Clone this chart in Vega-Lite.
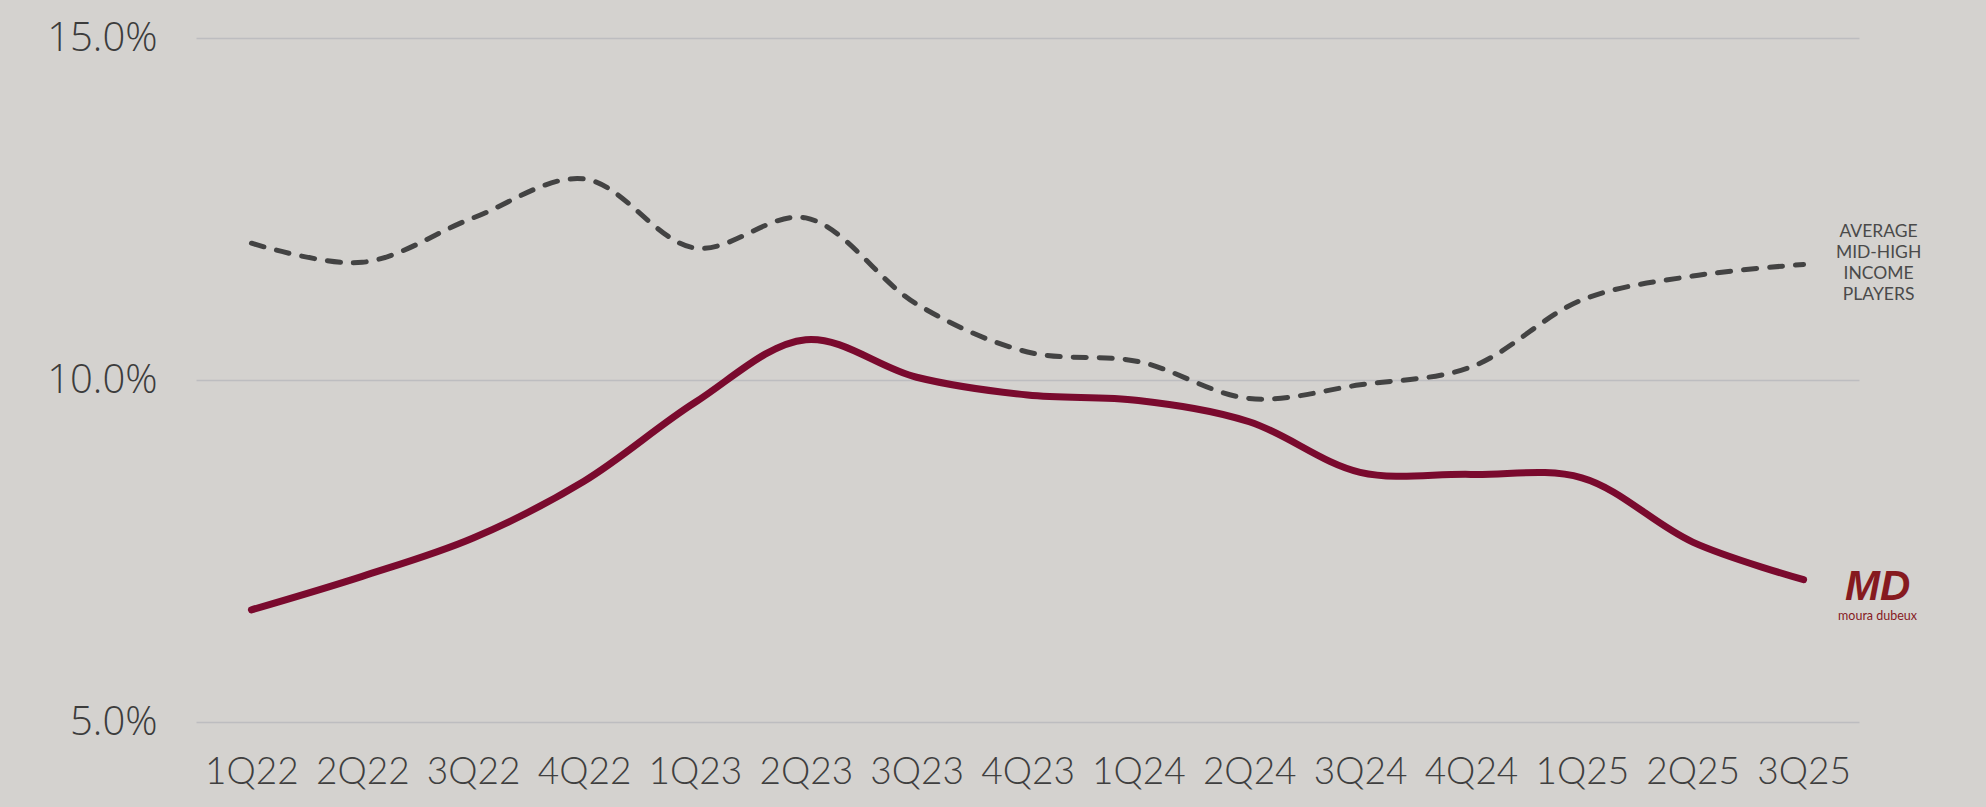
{
  "$schema": "https://vega.github.io/schema/vega-lite/v6.json",
  "width": 1663,
  "height": 684,
  "autosize": "none",
  "padding": {"left": 196, "top": 38, "right": 127, "bottom": 85},
  "background": "#d4d2cf",
  "config": {"view": {"stroke": null}},
  "data": {
    "values": [
      {"quarter": "1Q22", "series": "Moura Dubeux", "value": 6.64},
      {"quarter": "2Q22", "series": "Moura Dubeux", "value": 7.13},
      {"quarter": "3Q22", "series": "Moura Dubeux", "value": 7.69},
      {"quarter": "4Q22", "series": "Moura Dubeux", "value": 8.52},
      {"quarter": "1Q23", "series": "Moura Dubeux", "value": 9.67},
      {"quarter": "2Q23", "series": "Moura Dubeux", "value": 10.59},
      {"quarter": "3Q23", "series": "Moura Dubeux", "value": 10.04},
      {"quarter": "4Q23", "series": "Moura Dubeux", "value": 9.78},
      {"quarter": "1Q24", "series": "Moura Dubeux", "value": 9.70},
      {"quarter": "2Q24", "series": "Moura Dubeux", "value": 9.39},
      {"quarter": "3Q24", "series": "Moura Dubeux", "value": 8.65},
      {"quarter": "4Q24", "series": "Moura Dubeux", "value": 8.62},
      {"quarter": "1Q25", "series": "Moura Dubeux", "value": 8.57},
      {"quarter": "2Q25", "series": "Moura Dubeux", "value": 7.63},
      {"quarter": "3Q25", "series": "Moura Dubeux", "value": 7.08},
      {"quarter": "1Q22", "series": "Average", "value": 12.0},
      {"quarter": "2Q22", "series": "Average", "value": 11.72},
      {"quarter": "3Q22", "series": "Average", "value": 12.37},
      {"quarter": "4Q22", "series": "Average", "value": 12.94},
      {"quarter": "1Q23", "series": "Average", "value": 11.93},
      {"quarter": "2Q23", "series": "Average", "value": 12.37},
      {"quarter": "3Q23", "series": "Average", "value": 11.11},
      {"quarter": "4Q23", "series": "Average", "value": 10.41},
      {"quarter": "1Q24", "series": "Average", "value": 10.27},
      {"quarter": "2Q24", "series": "Average", "value": 9.73},
      {"quarter": "3Q24", "series": "Average", "value": 9.93},
      {"quarter": "4Q24", "series": "Average", "value": 10.19},
      {"quarter": "1Q25", "series": "Average", "value": 11.17},
      {"quarter": "2Q25", "series": "Average", "value": 11.52},
      {"quarter": "3Q25", "series": "Average", "value": 11.69}
    ]
  },
  "encoding": {
    "x": {
      "field": "quarter",
      "type": "ordinal",
      "sort": null,
      "scale": {"type": "point", "padding": 0.5},
      "axis": {
        "title": null,
        "domain": false,
        "ticks": false,
        "grid": false,
        "labelAngle": 0,
        "labelFont": "Lato",
        "labelFontWeight": 300,
        "labelFontSize": 37,
        "labelColor": "#3f3f3f",
        "labelBaseline": "alphabetic",
        "labelPadding": 61
      }
    },
    "y": {
      "field": "value",
      "type": "quantitative",
      "scale": {"domain": [5, 15], "nice": false, "zero": false},
      "axis": {
        "title": null,
        "domain": false,
        "ticks": false,
        "values": [5, 10, 15],
        "labelExpr": "format(datum.value, '.1f') + '%'",
        "labelFont": "Open Sans",
        "labelFontWeight": 300,
        "labelFontSize": 40,
        "labelColor": "#3c3c3c",
        "labelPadding": 39,
        "gridColor": "#bdbdc0",
        "gridWidth": 1.6
      }
    }
  },
  "layer": [
    {
      "transform": [{"filter": "datum.series === 'Average'"}],
      "mark": {"type": "line", "interpolate": "catmull-rom", "color": "#434343", "strokeWidth": 5, "strokeDash": [13, 13], "strokeCap": "round"}
    },
    {
      "transform": [{"filter": "datum.series === 'Moura Dubeux'"}],
      "mark": {"type": "line", "interpolate": "catmull-rom", "color": "#7a0a2e", "strokeWidth": 7, "strokeCap": "round"}
    },
    {
      "transform": [{"filter": "datum.series === 'Average' && datum.quarter === '3Q25'"}],
      "mark": {"type": "text", "text": ["AVERAGE", "MID-HIGH", "INCOME", "PLAYERS"], "lineHeight": 21, "align": "center", "baseline": "middle", "dx": 75, "dy": -32, "font": "Lato", "fontSize": 17.5, "color": "#4a4a4a"}
    },
    {
      "transform": [{"filter": "datum.series === 'Moura Dubeux' && datum.quarter === '3Q25'"}],
      "mark": {"type": "text", "text": "MD", "align": "center", "baseline": "alphabetic", "dx": 74, "dy": 20, "font": "Liberation Sans", "fontWeight": "bold", "fontStyle": "italic", "fontSize": 42, "color": "#861a1f"}
    },
    {
      "transform": [{"filter": "datum.series === 'Moura Dubeux' && datum.quarter === '3Q25'"}],
      "mark": {"type": "text", "text": "moura dubeux", "align": "center", "baseline": "top", "dx": 74, "dy": 30, "font": "Lato", "fontSize": 12.5, "letterSpacing": 0.9, "color": "#861a1f"}
    }
  ]
}
